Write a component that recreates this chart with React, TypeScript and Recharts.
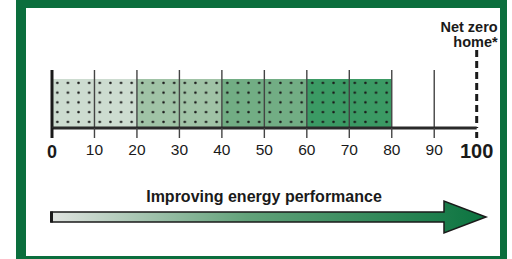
import { Bar, BarChart, ReferenceLine, XAxis, YAxis } from 'recharts';

const scaleTicks = [0, 10, 20, 30, 40, 50, 60, 70, 80, 90, 100];
const segmentKeys = ['band1', 'band2', 'band3', 'band4'];
const segmentWidths = [20, 20, 20, 20];
const segmentColors = ['#cddcd0', '#a0c3a6', '#72ad84', '#3b9a64'];
const netZeroLabel = ['Net zero', 'home*'];
const arrowLabel = 'Improving energy performance';

const row: Record<string, string | number> = { name: 'rating' };
segmentKeys.forEach((key, i) => {
    row[key] = segmentWidths[i];
});
const data = [row];

const FONT = '"Liberation Sans", Arial, Helvetica, sans-serif';

function DottedBar(props: any) {
    const { x, y, width, height, fill } = props;
    return (
        <g>
            <rect x={x} y={y} width={width} height={height} fill={fill} />
            <rect x={x} y={y} width={width} height={height} fill="url(#dotGrid)" />
        </g>
    );
}

function ScaleTick(props: any) {
    const { x, y, payload } = props;
    const value = payload.value as number;
    const isEnd = value === 0 || value === 100;
    return (
        <g>
            <line
                x1={x}
                x2={x}
                y1={y - (value === 100 ? 6 : 10)}
                y2={y}
                stroke={isEnd ? '#1a1a1a' : '#444'}
                strokeWidth={isEnd ? 3 : 1.4}
            />
            <text
                x={x}
                y={y + (isEnd ? 20 : 17)}
                textAnchor="middle"
                fontFamily={FONT}
                fontSize={value === 100 ? 20 : isEnd ? 18 : 15.5}
                fontWeight={isEnd ? 700 : 400}
                fill="#1a1a1a"
            >
                {value}
            </text>
        </g>
    );
}

// the reference lines reach a little above the bar
function GridLine(props: any) {
    const { x1, x2, y1, y2, value } = props;
    const top = Math.min(y1, y2);
    const bottom = Math.max(y1, y2);
    const first = value === 0;
    return <line x1={x1} x2={x2} y1={top - 9} y2={bottom} stroke={first ? '#1a1a1a' : '#444'} strokeWidth={first ? 3 : 1.4} />;
}

function NetZeroLine(props: any) {
    const { x1, x2, y1, y2 } = props;
    const top = Math.min(y1, y2);
    const bottom = Math.max(y1, y2);
    return (
        <g>
            <line x1={x1} x2={x2} y1={top - 29} y2={bottom} stroke="#1a1a1a" strokeWidth={3} strokeDasharray="7 4" />
            {netZeroLabel.map((t, i) => (
                <text key={t} x={x1 + 21} y={32 + i * 15} textAnchor="end" fontFamily={FONT} fontSize={14.5} fontWeight={700} fill="#1a1a1a">
                    {t}
                </text>
            ))}
        </g>
    );
}

export default function App() {
    return (
        <div style={{ position: 'absolute', left: 0, top: 0, width: 512, height: 259, overflow: 'hidden', background: '#fff' }}>
            <div
                style={{
                    position: 'absolute',
                    left: 16,
                    top: 0,
                    width: 474,
                    height: 248,
                    borderStyle: 'solid',
                    borderColor: '#0b6e3d',
                    borderWidth: '8px 7px 8px 10px',
                }}
            />
            <svg width={512} height={259} style={{ position: 'absolute', left: 0, top: 0 }}>
                <defs>
                    <pattern id="dotGrid" patternUnits="userSpaceOnUse" x={52} y={78} width={10.625} height={9.75}>
                        <circle cx={5.3} cy={4.9} r={1.3} fill="#1a1a1a" />
                    </pattern>
                    <linearGradient id="arrowFill" x1="0" y1="0" x2="1" y2="0">
                        <stop offset="0" stopColor="#e0e3e0" />
                        <stop offset="0.45" stopColor="#62a27a" />
                        <stop offset="1" stopColor="#0b7440" />
                    </linearGradient>
                </defs>
                <text x={264} y={202} textAnchor="middle" fontFamily={FONT} fontSize={16} fontWeight={700} fill="#1a1a1a">
                    {arrowLabel}
                </text>
                <path
                    d="M51 212 L444 212 L444 201 L486 217 L444 233 L444 222 L51 222 Z"
                    fill="url(#arrowFill)"
                    stroke="#1a1a1a"
                    strokeWidth={1.5}
                    strokeLinejoin="miter"
                />
                <line x1={51.5} x2={51.5} y1={211.5} y2={222.5} stroke="#1a1a1a" strokeWidth={3} />
            </svg>
            <div style={{ position: 'absolute', left: 0, top: 0 }}>
                <BarChart
                    width={512}
                    height={259}
                    data={data}
                    layout="vertical"
                    margin={{ top: 79, right: 35.3, bottom: 0, left: 52 }}
                    barCategoryGap={0}
                >
                    <XAxis
                        type="number"
                        domain={[0, 100]}
                        ticks={scaleTicks}
                        interval={0}
                        tick={<ScaleTick />}
                        tickLine={false}
                        tickSize={10}
                        tickMargin={0}
                        axisLine={{ stroke: '#2a2a2a', strokeWidth: 3 }}
                        height={131}
                    />
                    <YAxis type="category" dataKey="name" hide width={0} />
                    {segmentKeys.map((key, i) => (
                        <Bar key={key} dataKey={key} stackId="rating" fill={segmentColors[i]} shape={<DottedBar />} isAnimationActive={false} />
                    ))}
                    {scaleTicks.slice(0, -1).map((v) => (
                        <ReferenceLine key={v} x={v} shape={(p: any) => <GridLine {...p} value={v} />} />
                    ))}
                    <ReferenceLine x={100} shape={(p: any) => <NetZeroLine {...p} />} />
                </BarChart>
            </div>
        </div>
    );
}
